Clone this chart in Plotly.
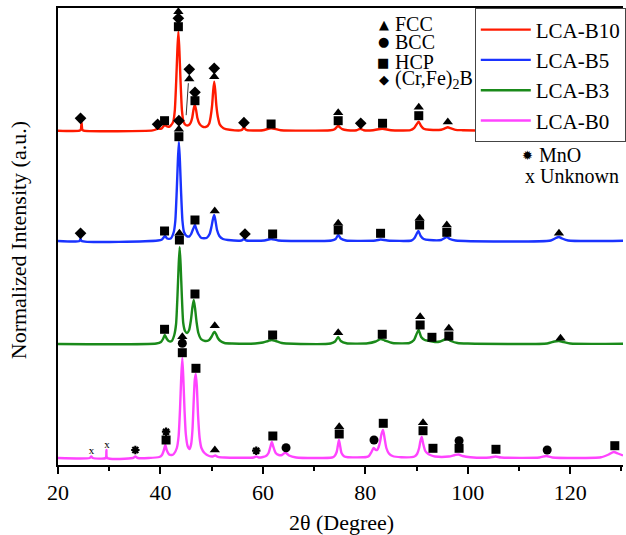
import plotly.graph_objects as go

# ---------------- data (2θ in degrees, normalized intensity above each baseline) ----------------
series_names = ["LCA-B10", "LCA-B5", "LCA-B3", "LCA-B0"]
series_colors = ["#FF1A00", "#1A33FF", "#1A8A1A", "#FF44FF"]
stack_offsets = [334.3, 224, 121, 7]

b10_x = [20, 24.2, 24.45, 24.6, 24.75, 25.0, 38.5, 39.1, 39.45, 39.8, 40.3, 40.6, 40.9, 41.2, 41.7, 42.0,
         42.5, 42.8, 43.08, 43.3, 43.5, 43.7, 43.92, 44.2, 44.5, 45.0, 45.5, 45.9, 46.2, 46.45, 46.7, 46.95,
         47.2, 47.6, 48.2, 49.0, 49.5, 49.8, 50.08, 50.3, 50.5, 50.7, 50.92, 51.2, 51.6, 52.3, 53.5, 55.8,
         56.1, 56.3, 56.5, 56.9, 60, 61.6, 63.5, 73.2, 74.0, 74.4, 74.7, 75.0, 75.5, 76.5, 78.3, 79.0, 79.7,
         81.5, 83.3, 85, 88.8, 89.5, 89.95, 90.4, 90.85, 91.4, 92.5, 94.8, 95.6, 96.1, 96.6, 97.6, 99,
         115.8, 117.0, 117.6, 118.2, 119.5, 130.3]
b10_y = [0, 0, 1, 8, 1, 0, 0.3, 1.2, 2.5, 1.8, 2.5, 4.5, 6, 4.5, 4, 5,
         9, 20, 50, 80, 99, 80, 50, 20, 9, 5.5, 5.5, 8, 13, 21, 26, 21,
         13, 7, 4, 4, 7, 14, 25, 40, 49, 40, 25, 14, 6, 2.5, 1, 0.5,
         2, 4, 2, 0.5, 0.5, 2.5, 0.5, 0.5, 1.5, 3.5, 5, 3.5, 1.5, 0.5, 0.5, 2, 0.5,
         0.5, 2, 0.5, 0.5, 2.5, 6, 9, 5, 2, 1, 1, 2.5, 3.5, 2.5, 0.8, 0.5,
         0.5, 3, 5, 3, 0.5, 0.3]

b5_x = [20, 24.2, 24.4, 24.6, 39.5, 40.3, 40.9, 41.3, 42.0, 42.6, 42.9, 43.18, 43.4, 43.6, 43.8, 44.02,
        44.3, 44.6, 45.1, 45.6, 46.0, 46.3, 46.55, 46.75, 47.0, 47.4, 48.0, 49.0, 49.6, 49.95, 50.25, 50.5,
        50.75, 51.05, 51.5, 52.2, 53.2, 55.8, 56.3, 56.8, 60.3, 61.6, 63, 73.4, 74.2, 74.7, 75.2, 76.2,
        82, 83, 84.3, 89, 89.6, 90.0, 90.35, 90.8, 91.4, 92.5, 94.8, 95.5, 95.9, 96.5, 97.6,
        116.2, 117.2, 117.8, 118.4, 119.6, 130.3]
b5_y = [0, 0, 2.5, 0, 0.5, 1.5, 5, 2.5, 2.5, 9, 20, 50, 80, 99, 80, 50,
        20, 9, 5, 4.5, 7, 11, 14, 16, 12, 7, 3, 3, 7, 14, 22, 26,
        20, 11, 5, 2, 1, 0.5, 2, 0.5, 0.5, 2, 0.5, 0.5, 2, 6, 2.5, 0.5,
        0.5, 1.5, 0.5, 0.5, 3, 7, 10, 5, 2, 1, 1, 3, 4, 2, 0.5,
        0.5, 3, 4, 2.5, 0.5, 0.3]

b3_x = [20, 39.2, 40.1, 40.5, 40.85, 41.2, 41.6, 42.2, 42.7, 43.05, 43.33, 43.55, 43.75, 43.95, 44.17,
        44.45, 44.8, 45.2, 45.6, 45.95, 46.25, 46.5, 46.75, 47.05, 47.4, 47.9, 48.7, 49.5, 50.0, 50.35,
        50.6, 50.85, 51.2, 51.7, 52.5, 54, 58.5, 60, 61.0, 61.7, 62.5, 63.7, 66, 73.2, 74.1, 74.7, 75.2,
        76.3, 80.5, 82, 83, 83.8, 85.3, 88.6, 89.5, 90.0, 90.4, 90.9, 91.6, 92.6, 93.6, 94.6, 95.5, 96.0,
        96.7, 98, 100, 115.5, 116.9, 117.8, 118.7, 120, 130.3]
b3_y = [0, 0.5, 2, 5, 9, 5.5, 3, 3, 9, 20, 49, 78, 97, 78, 49,
        21, 13, 11, 14, 24, 37, 44, 36, 22, 11, 5, 3, 4, 7.5, 11,
        12, 10, 6, 3, 1, 0.5, 0.5, 1.5, 3, 4, 3, 1, 0.3, 0.5, 2.5, 7, 3,
        0.7, 0.7, 2.5, 5, 3.5, 1, 1, 4, 10, 14, 7, 4, 3, 2, 2.5, 4.5, 5,
        3, 1, 0.5, 0.5, 2.5, 3, 2, 0.5, 0.3]

b0_x = [20, 26.2, 26.5, 26.8, 29.3, 29.45, 29.6, 34.6, 35.1, 35.6, 39.8, 40.3, 40.65, 40.95, 41.25,
        41.7, 42.2, 42.6, 43.2, 43.55, 43.83, 44.05, 44.27, 44.48, 44.7, 44.95, 45.3, 45.7, 46.0, 46.25,
        46.5, 46.7, 46.9, 47.1, 47.35, 47.65, 48.0, 48.6, 49.5, 50.2, 50.7, 51.2, 52.5, 58.2, 58.7, 59.2,
        60.0, 60.6, 61.1, 61.45, 61.75, 62.05, 62.5, 63.1, 63.7, 64.4, 65.1, 66.5, 73.5, 74.0, 74.4, 74.62,
        74.85, 75.08, 75.35, 75.9, 76.6, 80.2, 80.7, 81.2, 81.6, 82.05, 82.3, 82.6, 82.9, 83.15, 83.45,
        83.75, 84.1, 84.6, 85.3, 87, 89.6, 90.1, 90.5, 90.75, 91.0, 91.3, 91.7, 92.3, 92.9, 93.6, 96.3,
        97.5, 98.2, 99.0, 100.5, 104.3, 105.4, 106.5, 114, 115.3, 116.5, 126, 127.5, 128.5, 129.3, 130.3]
b0_y = [0, 0, 1.5, 0, 0, 8, 0, 0, 1.5, 0, 1, 3, 7.5, 13, 7.5,
        3.5, 3, 4, 10, 22, 50, 80, 100, 78, 48, 24, 12, 9, 14, 28,
        58, 78, 84, 72, 42, 20, 10, 5, 2, 1.5, 2.5, 1.2, 0.5, 0.5, 1.5, 0.5,
        1, 2, 5, 11, 16, 11, 5, 3, 3, 5.5, 2.5, 0.5, 0.5, 2, 6, 12,
        18, 12, 5, 1.5, 0.7, 1, 2, 6, 10, 8, 8, 11, 17, 24, 28,
        20, 10, 4.5, 2, 0.8, 1.5, 4, 10, 17, 21, 14, 7, 4, 2.5, 1.5, 1.5,
        3, 3.5, 2, 0.8, 0.5, 1.5, 0.5, 0.5, 2, 0.5, 0.7, 3.5, 6, 4.5, 2.5]

series_x = [b10_x, b5_x, b3_x, b0_x]
series_y = [b10_y, b5_y, b3_y, b0_y]

# peak identification marks: (2θ, level above baseline) per phase per series
phase_symbols = {"FCC": "triangle-up", "BCC": "circle", "HCP": "square", "CrFeB": "diamond"}
marks = [
    {  # LCA-B10
        "FCC": [(43.5, 119), (45.63, 51.7), (50.5, 54), (74.7, 18), (90.43, 23.4), (96.1, 8.7), (117.6, 8.7)],
        "HCP": [(40.8, 10), (43.5, 104), (46.74, 30), (61.6, 6.7), (74.7, 10), (83.36, 7.4), (90.43, 15)],
        "CrFeB": [(24.4, 12.4), (39.45, 6.4), (43.5, 112.4), (45.63, 61.4), (46.74, 38.4), (50.5, 62.4),
                  (56.3, 8), (79.1, 7.4)],
    },
    {  # LCA-B5
        "FCC": [(43.6, 111.7), (50.6, 30), (74.7, 17.7), (90.6, 22.7), (95.9, 16), (117.8, 7.7)],
        "HCP": [(40.8, 10), (43.6, 104.3), (46.74, 21), (61.9, 7), (74.7, 11), (82.97, 7.7), (90.6, 16),
                (95.9, 8.7)],
        "CrFeB": [(24.4, 7.7), (43.6, 120.3), (56.5, 7)],
    },
    {  # LCA-B3
        "FCC": [(43.7, 110.7), (50.6, 18.3), (74.7, 11.3), (90.7, 27.3), (96.3, 15.7), (118.1, 5.7)],
        "HCP": [(40.8, 14.7), (43.7, 104), (46.74, 50), (61.9, 9), (83.3, 9.7), (90.7, 19), (93.0, 6.7),
                (96.3, 8)],
    },
    {  # LCA-B0
        "FCC": [(44.27, 121.3), (50.62, 8), (74.9, 31.3), (91.26, 35.3)],
        "BCC": [(44.27, 114.7), (64.52, 10.3), (81.69, 18), (98.3, 17.3), (115.5, 8)],
        "HCP": [(41.1, 18), (44.27, 105.3), (46.93, 89.7), (61.94, 22), (74.9, 24), (83.5, 34.7),
                (91.26, 27.3), (93.2, 9.7), (98.3, 9.7), (105.5, 8.7), (128.7, 12.3)],
        "MnO": [(35.1, 8), (41.1, 26.3), (58.7, 7.3)],
        "Unknown": [(26.54, 6.3), (29.57, 13)],
    },
]

# arrow in LCA-B10 pointing from the shoulder to the (Cr,Fe)2B / FCC mark
arrow_from = (45.0, 14)
arrow_to = (45.45, 47.5)

x_range = [20, 130.3]
x_ticks = [20, 40, 60, 80, 100, 120]

FONT = "Liberation Serif"

fig = go.Figure()

for name, color, off, xs, ys in zip(series_names, series_colors, stack_offsets, series_x, series_y):
    fig.add_trace(go.Scatter(
        x=xs, y=[v + off for v in ys], mode="lines", name=name,
        line=dict(color=color, width=2.4, shape="spline", smoothing=0.6),
    ))

for off, m in zip(stack_offsets, marks):
    for phase, pts in m.items():
        xs = [p[0] for p in pts]
        ys = [p[1] + off for p in pts]
        if phase == "Unknown":
            fig.add_trace(go.Scatter(x=xs, y=ys, mode="text", text=["x"] * len(xs),
                                     textfont=dict(family=FONT, size=11, color="black"),
                                     showlegend=False, hoverinfo="skip"))
        elif phase == "MnO":
            fig.add_trace(go.Scatter(x=xs, y=ys, mode="markers", showlegend=False, hoverinfo="skip",
                                     marker=dict(symbol="asterisk-open", size=7, color="black",
                                                 line=dict(color="black", width=2.2))))
        else:
            fig.add_trace(go.Scatter(x=xs, y=ys, mode="markers", showlegend=False, hoverinfo="skip",
                                     marker=dict(symbol=phase_symbols[phase], size=9, color="black",
                                                 line=dict(width=0))))

annotations = [
    dict(x=arrow_to[0], y=arrow_to[1] + stack_offsets[0], ax=arrow_from[0], ay=arrow_from[1] + stack_offsets[0],
         xref="x", yref="y", axref="x", ayref="y", showarrow=True, arrowhead=0, arrowwidth=1,
         arrowcolor="#333333", text=""),
    # axis titles
    dict(text="2θ (Degree)", xref="paper", yref="paper", x=(343 - 58) / 568, y=-0.125, showarrow=False,
         font=dict(family=FONT, size=22, color="black"), xanchor="center", yanchor="middle"),
    dict(text="Normalized Intensity (a.u.)", xref="paper", yref="paper", x=-0.0704, y=(465 - 240) / 457,
         showarrow=False, textangle=-90, font=dict(family=FONT, size=22, color="black"),
         xanchor="center", yanchor="middle"),
]

# phase key (top)
key_rows = [("▲", "FCC", 24), ("●", "BCC", 42), ("■", "HCP", 62), ("◆", "(Cr,Fe)<sub>2</sub>B", 80)]
for sym, label, ypx in key_rows:
    yp = (465 - ypx) / 457
    annotations.append(dict(text=sym, xref="paper", yref="paper", x=(392 - 58) / 568, y=yp, showarrow=False,
                            font=dict(family="DejaVu Sans", size=13, color="black"),
                            xanchor="right", yanchor="middle", borderpad=0))
    annotations.append(dict(text=label, xref="paper", yref="paper", x=(396 - 58) / 568, y=yp, showarrow=False,
                            font=dict(family=FONT, size=20, color="black"),
                            xanchor="left", yanchor="middle", borderpad=0))

# MnO / Unknown key
annotations.append(dict(text="✹", xref="paper", yref="paper", x=(537 - 58) / 568, y=(465 - 155) / 457,
                        showarrow=False, font=dict(family="DejaVu Sans", size=13, color="black"),
                        xanchor="right", yanchor="middle", borderpad=0))
annotations.append(dict(text="MnO", xref="paper", yref="paper", x=(541 - 58) / 568, y=(465 - 155) / 457,
                        showarrow=False, font=dict(family=FONT, size=20, color="black"),
                        xanchor="left", yanchor="middle", borderpad=0))
annotations.append(dict(text="x Unknown", xref="paper", yref="paper", x=(526 - 58) / 568, y=(465 - 176) / 457,
                        showarrow=False, font=dict(family=FONT, size=20, color="black"),
                        xanchor="left", yanchor="middle", borderpad=0))

fig.update_layout(
    width=626, height=535,
    margin=dict(l=58, r=0, t=8, b=70),
    paper_bgcolor="white", plot_bgcolor="white",
    showlegend=True,
    legend=dict(x=(477 - 58) / 568, y=0.999, xanchor="left", yanchor="top",
                font=dict(family=FONT, size=21, color="black"),
                bgcolor="white", bordercolor="#444444", borderwidth=1,
                tracegroupgap=0, itemwidth=50),
    annotations=annotations,
    xaxis=dict(range=x_range, tickvals=x_ticks, ticks="outside", ticklen=7, tickwidth=1.5,
               tickcolor="black", showline=True, linecolor="black", linewidth=1.5, mirror=True,
               showgrid=False, zeroline=False,
               tickfont=dict(family=FONT, size=22, color="black"),
               minor=dict(tickvals=[30, 50, 70, 90, 110, 130], ticks="outside", ticklen=4,
                          tickwidth=1.5, tickcolor="black")),
    yaxis=dict(range=[0, 457], showticklabels=False, ticks="", showline=True, linecolor="black",
               linewidth=1.5, showgrid=False, zeroline=False),
)

fig.write_html("out.html")
